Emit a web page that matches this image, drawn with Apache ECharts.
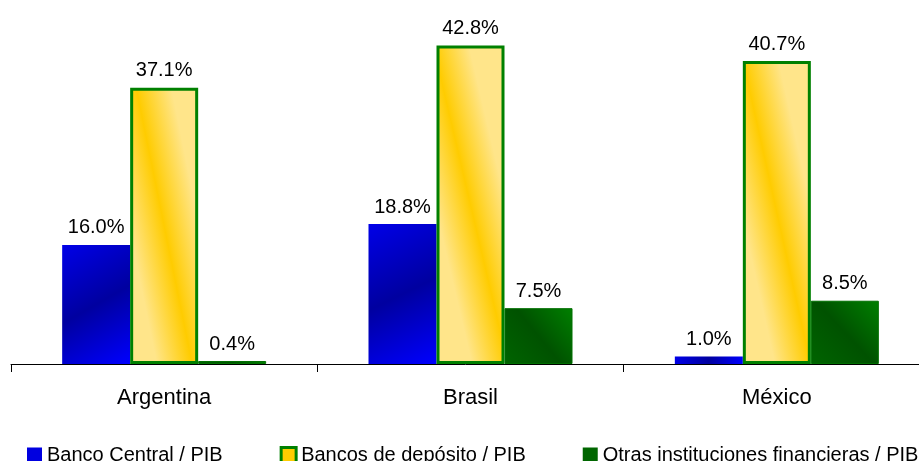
<!DOCTYPE html>
<html>
<head>
<meta charset="utf-8">
<script src="https://cdn.jsdelivr.net/npm/echarts@6/dist/echarts.min.js"></script>
<style>
html,body{margin:0;padding:0;background:#fff;}
#chart{width:919px;height:461px;}
</style>
</head>
<body>
<div id="chart"></div>
<script>
const categories = ['Argentina', 'Brasil', 'México'];
const seriesNames = ['Banco Central / PIB', 'Bancos de depósito / PIB', 'Otras instituciones financieras / PIB'];
const bancoCentral = [16.0, 18.8, 1.0];
const bancosDeposito = [37.1, 42.8, 40.7];
const otrasInstituciones = [0.4, 7.5, 8.5];

const FONT = '"Liberation Sans", Arial, sans-serif';

function grad(x, y, x2, y2, c0, c1, c2) {
  return new echarts.graphic.LinearGradient(x, y, x2, y2, [
    { offset: 0, color: c0 }, { offset: 0.5, color: c1 }, { offset: 1, color: c2 }
  ]);
}

const labelCfg = {
  show: true,
  position: 'top',
  distance: 7,
  color: '#000',
  fontFamily: FONT,
  fontSize: 20,
  formatter: p => p.value.toFixed(1) + '%'
};

const chart = echarts.init(document.getElementById('chart'), null, { renderer: 'canvas' });
chart.setOption({
  animation: false,
  backgroundColor: '#ffffff',
  grid: { left: 11, right: -11, top: 29, bottom: 97, containLabel: false, outerBoundsMode: 'none' },
  legend: {
    left: 27,
    top: 445,
    width: 1200,
    padding: 0,
    itemWidth: 15,
    itemHeight: 15,
    itemGap: 57,
    icon: 'rect',
    textStyle: { color: '#000', fontFamily: FONT, fontSize: 20, padding: [0, 0, 0, 0] },
    data: [
      { name: seriesNames[0], itemStyle: { color: '#0000E0', borderWidth: 0 } },
      { name: seriesNames[1], itemStyle: { color: '#FFCC00', borderColor: '#008000', borderWidth: 3 } },
      { name: seriesNames[2], itemStyle: { color: '#006600', borderWidth: 0 } }
    ]
  },
  xAxis: {
    type: 'category',
    data: categories,
    axisLine: { show: true, lineStyle: { color: '#000', width: 1 } },
    axisTick: { show: true, length: 8, lineStyle: { color: '#000' } },
    axisLabel: { color: '#000', fontFamily: FONT, fontSize: 22, margin: 23 }
  },
  yAxis: {
    type: 'value',
    min: 0,
    max: 45,
    show: false,
    splitLine: { show: false }
  },
  series: [
    {
      name: seriesNames[0],
      type: 'bar',
      data: bancoCentral,
      barWidth: 68,
      barGap: '0%',
      itemStyle: { color: grad(0, 0, 1, 1, '#0000E8', '#0000A0', '#0000FF') },
      label: labelCfg
    },
    {
      name: seriesNames[1],
      type: 'bar',
      data: bancosDeposito,
      barWidth: 68,
      barGap: '0%',
      itemStyle: {
        color: grad(0, 0.525, 1, 0.475, '#FFE58A', '#FFCC00', '#FFE58A'),
        borderColor: '#008000',
        borderWidth: 3
      },
      label: labelCfg
    },
    {
      name: seriesNames[2],
      type: 'bar',
      data: otrasInstituciones,
      barWidth: 68,
      barGap: '0%',
      itemStyle: {
        color: grad(0, 1, 1, 0, '#006400', '#005200', '#008000'),
        borderColor: '#007000',
        borderWidth: 1
      },
      label: labelCfg
    }
  ]
});
</script>
</body>
</html>
